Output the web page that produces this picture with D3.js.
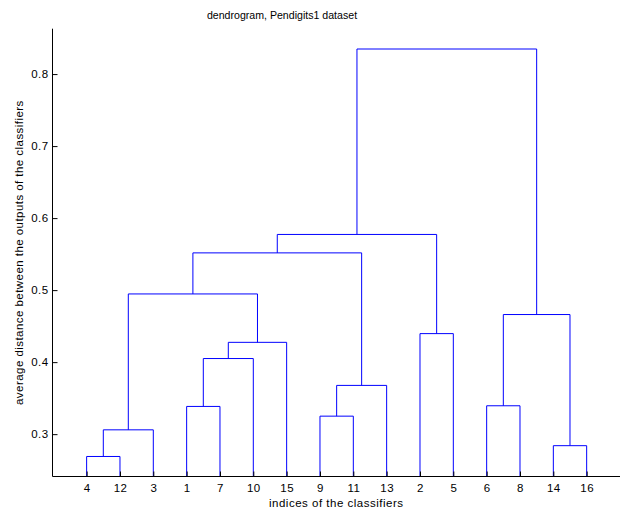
<!DOCTYPE html>
<html>
<head>
<meta charset="utf-8">
<script src="https://cdn.jsdelivr.net/npm/d3@7"></script>
<style>
  html, body { margin: 0; padding: 0; background: #fff; }
  svg { display: block; }
  text { font-family: "Liberation Sans", Arial, Helvetica, sans-serif; fill: #000; }
</style>
</head>
<body>
<svg id="chart" width="624" height="512"></svg>
<script>
// Leaf order along the x axis (classifier indices)
const leafOrder = [4, 12, 3, 1, 7, 10, 15, 9, 11, 13, 2, 5, 6, 8, 14, 16];
// Linkage (MATLAB style): cluster 16+k is formed by merging mergeLeft[k-1] and mergeRight[k-1]
const mergeLeft   = [4,     17,    14,    9,     1,      6,      20,     21,    24,     2,      22,     18,     28,     29,     30];
const mergeRight  = [12,    3,     16,    11,    7,      8,      13,     10,    15,     5,      19,     25,     23,     26,     27];
const mergeHeight = [0.269, 0.306, 0.284, 0.325, 0.3385, 0.3394, 0.3677, 0.405, 0.4275, 0.4396, 0.4661, 0.4947, 0.5517, 0.5773, 0.8348];
const yTicks = [0.3, 0.4, 0.5, 0.6, 0.7, 0.8];
const yDomain = [0.2412, 0.863];

const titleText = "dendrogram, Pendigits1 dataset";
const xLabelText = "indices of the classifiers";
const yLabelText = "average distance between the outputs of the classifiers";

const svg = d3.select("#chart");
const mLeft = 52.5, mRight = 620, mTop = 28.7, mBottom = 476.5;

const x = d3.scaleLinear().domain([0, leafOrder.length + 1]).range([mLeft + 0.8, mRight]);
const y = d3.scaleLinear().domain(yDomain).range([mBottom, mTop]);

// Build nested tree from linkage
const nLeaves = leafOrder.length;
function build(id) {
  if (id <= nLeaves) return { name: id };
  const k = id - nLeaves - 1;
  return { name: id, height: mergeHeight[k], children: [build(mergeLeft[k]), build(mergeRight[k])] };
}
const rootId = nLeaves + mergeHeight.length;
const root = d3.hierarchy(build(rootId));
root.eachAfter(n => {
  if (!n.children) {
    n.px = x(leafOrder.indexOf(n.data.name) + 1);
    n.py = y(yDomain[0]);
  } else {
    n.px = d3.mean(n.children, c => c.px);
    n.py = y(n.data.height);
  }
});

const g = svg.append("g");
const links = [];
root.each(n => {
  if (n.children) {
    const [a, b] = n.children;
    links.push(`M${a.px},${a.py}V${n.py}H${b.px}V${b.py}`);
  }
});
g.selectAll("path.link").data(links).join("path")
  .attr("class", "link")
  .attr("d", d => d)
  .attr("fill", "none")
  .attr("stroke", "#0000ff")
  .attr("stroke-width", 1);

// Axes
const yAxis = d3.axisLeft(y).tickValues(yTicks).tickFormat(d3.format(".1f"))
  .tickSizeInner(-5).tickSizeOuter(0).tickPadding(4);
const yg = svg.append("g").attr("transform", `translate(${mLeft},0)`).call(yAxis);

const xAxis = d3.axisBottom(x).tickValues(d3.range(1, nLeaves + 1))
  .tickFormat(i => leafOrder[i - 1]).tickSizeInner(-5).tickSizeOuter(0).tickPadding(7.5);
const xg = svg.append("g").attr("transform", `translate(0,${mBottom})`).call(xAxis);

[yg, xg].forEach(a => {
  a.selectAll("text").style("font-size", "11.5px").style("letter-spacing", "0.4px")
    .attr("fill", "#000")
    .style("font-family", '"Liberation Sans", Arial, sans-serif');
  a.selectAll("line").attr("stroke", "#000");
  a.select(".domain").remove();
});
svg.append("line").attr("x1", mLeft).attr("x2", mLeft).attr("y1", mTop).attr("y2", mBottom)
  .attr("stroke", "#000");
svg.append("line").attr("x1", mLeft).attr("x2", mRight).attr("y1", mBottom).attr("y2", mBottom)
  .attr("stroke", "#000");

svg.append("text").attr("x", 282).attr("y", 19).attr("text-anchor", "middle")
  .style("font-size", "10.6px").text(titleText);
svg.append("text").attr("x", (mLeft + mRight) / 2).attr("y", 507).attr("text-anchor", "middle")
  .style("font-size", "11.5px").style("letter-spacing", "0.5px").text(xLabelText);
svg.append("text").attr("transform", `translate(22.5,${(mTop + mBottom) / 2}) rotate(-90)`)
  .attr("text-anchor", "middle").style("font-size", "11.5px").style("letter-spacing", "0.45px")
  .text(yLabelText);
</script>
</body>
</html>
